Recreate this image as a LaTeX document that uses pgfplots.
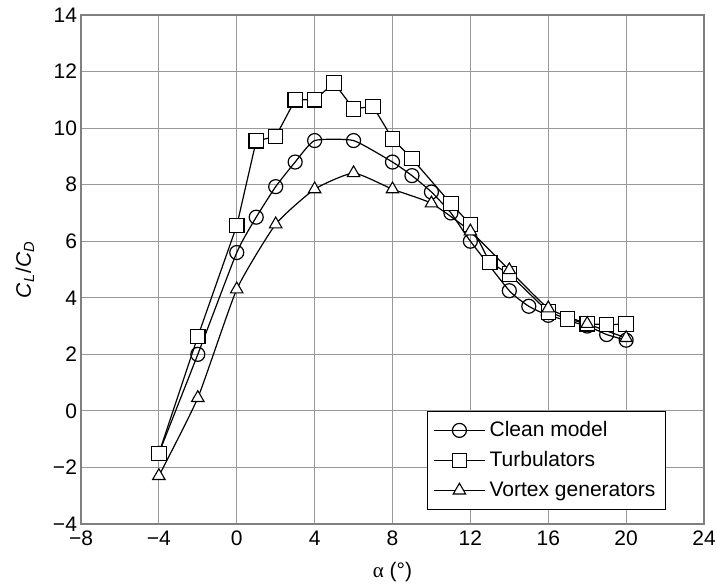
\documentclass[border=0pt]{standalone}
\usepackage{pgfplots}
\pgfplotsset{compat=1.18}
\usetikzlibrary{calc}
\usepackage{fontspec}
\setmainfont{Liberation Sans}
\newfontfamily\serifgreek{Liberation Serif}
\begin{document}
\begin{tikzpicture}
\begin{axis}[
  scale only axis,
  width=311.5pt, height=254.5pt,
  xmin=-8, xmax=24, ymin=-4, ymax=14,
  xtick={-8,-4,0,4,8,12,16,20,24},
  xticklabels={−8,−4,0,4,8,12,16,20,24},
  ytick={-4,-2,0,2,4,6,8,10,12,14},
  yticklabels={−4,−2,0,2,4,6,8,10,12,14},
  major tick length=0pt,
  grid=major,
  major grid style={color=black!40, line width=0.55pt},
  axis line style={color=black!50, line width=1pt},
  tick label style={font=\fontsize{10.5}{12}\selectfont},
  yticklabel style={xshift=1.5pt},
  label style={font=\fontsize{10.5}{12}\selectfont},
  xlabel={{\serifgreek α} (°)},
  ylabel={\textit{C}\textsubscript{\textit{L}}/\textit{C}\textsubscript{\textit{D}}},
  xlabel style={at={(axis description cs:0.5,-0.0943)}, anchor=center},
  ylabel style={at={(axis description cs:-0.0899,0.5)}, anchor=center},
  legend style={at={(0.939,0.028)}, anchor=south east, draw=black, line width=0.6pt,
    font=\fontsize{10.5}{12}\selectfont, row sep=2pt, inner sep=3pt},
  legend cell align=left,
  legend image code/.code={\draw[mark repeat=2,mark phase=2] plot coordinates {(0cm,0cm)(0.45cm,0cm)(0.9cm,0cm)};},
  every axis plot/.append style={black, line width=0.6pt, mark options={fill=white, solid, line width=0.55pt}},
]
\addplot[smooth, tension=0.3, mark=o, mark size=3.5pt, mark options={fill=white}] coordinates {
(-4,-1.5) (-2,2.0) (0,5.6) (1,6.85) (2,7.93) (3,8.8) (4,9.56) (6,9.56) (8,8.8) (9,8.32) (10,7.74) (11,7.0) (12,6.0) (14,4.25) (15,3.7) (16,3.38) (18,3.0) (19,2.7) (20,2.5)
};
\addlegendentry{Clean model}
\addplot[mark=square*, mark size=3.6pt] coordinates {
(-4,-1.5) (-2,2.63) (0,6.55) (1,9.55) (2,9.7) (3,11.0) (4,11.0) (5,11.6) (6,10.68) (7,10.77) (8,9.62) (9,8.92) (11,7.33) (12,6.6) (13,5.25) (14,4.84) (16,3.5) (17,3.25) (18,3.08) (19,3.05) (20,3.07)
};
\addlegendentry{Turbulators}
\addplot[smooth, tension=0.3, mark=triangle*, mark size=3.6pt] coordinates {
(-4,-2.3) (-2,0.46) (0,4.3) (2,6.6) (4,7.84) (6,8.41) (8,7.84) (10,7.34) (12,6.35) (14,4.98) (16,3.63) (18,3.08) (20,2.58)
};
\addlegendentry{Vortex generators}
\coordinate (sw) at (rel axis cs:0,0);
\coordinate (ne) at (rel axis cs:1,1);
\end{axis}
\pgfresetboundingbox
\path[use as bounding box] ($(sw)+(-40.5pt,-30.5pt)$) rectangle ($(ne)+(6pt,7.5pt)$);
\end{tikzpicture}
\end{document}
